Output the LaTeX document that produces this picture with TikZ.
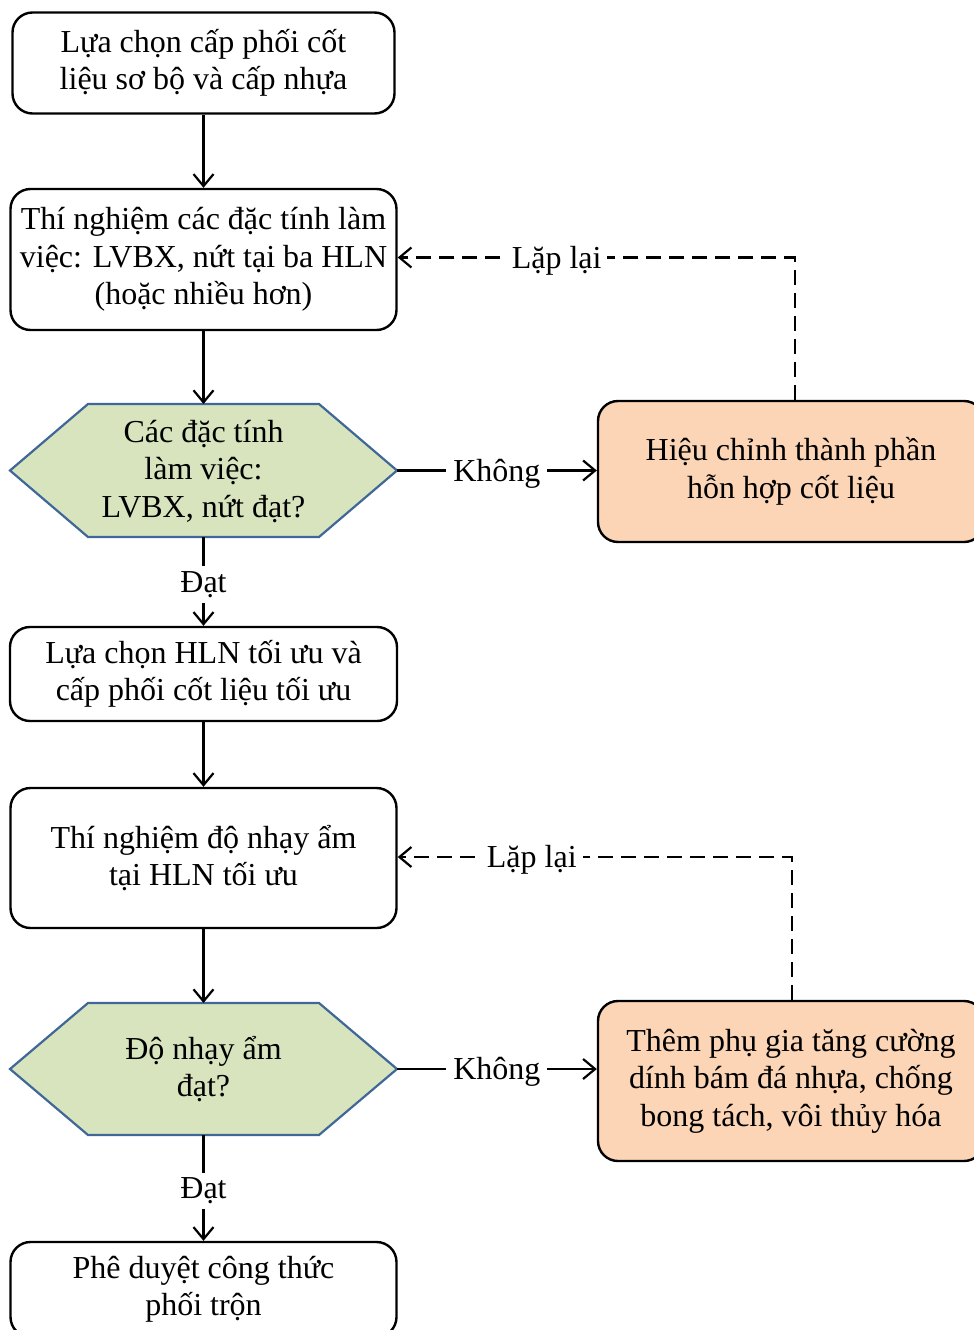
\documentclass[tikz,border=0pt]{standalone}
\usepackage{fontspec}
\setmainfont{Liberation Serif}
\usetikzlibrary{arrows.meta,calc}
\definecolor{hexfill}{HTML}{D7E4BD}
\definecolor{hexline}{HTML}{3F6797}
\definecolor{orfill}{HTML}{FBD5B5}
\begin{document}
\begin{tikzpicture}[x=1pt,y=-1pt,
  every node/.style={font=\fontsize{32}{37.5}\selectfont, align=center, inner sep=0pt},
  procbox/.style={draw=black, line width=2.4pt, rounded corners=20pt, fill=white},
  orbox/.style={draw=black, line width=2.4pt, rounded corners=20pt, fill=orfill},
  hexshape/.style={draw=hexline, line width=2.2pt, fill=hexfill, line join=miter},
  conn/.style={line width=2.4pt, -{Straight Barb[length=12pt,width=20pt,line width=2.2pt]}},
  dconn/.style={conn, dash pattern=on 15pt off 8pt},
  lbl/.style={fill=white, inner xsep=7pt, inner ysep=5pt, yshift=-3pt}]
\useasboundingbox (0,0) rectangle (974,1330);

% boxes
\node[procbox, minimum width=382pt, minimum height=101pt] (b1) at (203.5,63)
  {Lựa chọn cấp phối cốt\\liệu sơ bộ và cấp nhựa};
\node[procbox, minimum width=386pt, minimum height=141pt] (b2) at (203.5,259.5)
  {Thí nghiệm các đặc tính làm\\việc: LVBX, nứt tại ba HLN\\(hoặc nhiều hơn)};

% hexagon 1
\coordinate (h1c) at (203.5,470.5);
\draw[hexshape] ($(h1c)+(-193.5,0)$) -- ($(h1c)+(-115.5,-66.5)$) -- ($(h1c)+(115.5,-66.5)$)
  -- ($(h1c)+(193.5,0)$) -- ($(h1c)+(115.5,66.5)$) -- ($(h1c)+(-115.5,66.5)$) -- cycle;
\node[minimum width=387pt, minimum height=133pt] (h1) at ($(h1c)+(0,1)$)
  {Các đặc tính\\làm việc:\\LVBX, nứt đạt?};

\node[orbox, minimum width=386pt, minimum height=141pt] (o1) at (791,471.5)
  {Hiệu chỉnh thành phần\\hỗn hợp cốt liệu};

\node[procbox, minimum width=387pt, minimum height=94pt] (b3) at (203.5,674)
  {Lựa chọn HLN tối ưu và\\cấp phối cốt liệu tối ưu};
\node[procbox, minimum width=386pt, minimum height=140pt] (b4) at (203.5,858)
  {Thí nghiệm độ nhạy ẩm\\tại HLN tối ưu};

% hexagon 2
\coordinate (h2c) at (203.5,1069);
\draw[hexshape] ($(h2c)+(-193.5,0)$) -- ($(h2c)+(-115.5,-66)$) -- ($(h2c)+(115.5,-66)$)
  -- ($(h2c)+(193.5,0)$) -- ($(h2c)+(115.5,66)$) -- ($(h2c)+(-115.5,66)$) -- cycle;
\node[minimum width=387pt, minimum height=132pt] (h2) at (h2c)
  {Độ nhạy ẩm\\đạt?};

\node[orbox, minimum width=386pt, minimum height=160pt] (o2) at (791,1081)
  {Thêm phụ gia tăng cường\\dính bám đá nhựa, chống\\bong tách, vôi thủy hóa};

\node[procbox, minimum width=386pt, minimum height=95pt] (b5) at (203.5,1289.5)
  {Phê duyệt công thức\\phối trộn};

% connectors
\draw[conn] (b1.south) -- (b2.north);
\draw[conn] (b2.south) -- (h1c |- 0,404);
\draw[conn] (h1c |- 0,537) -- node[lbl] (d1) {Đạt} (b3.north);
\draw[conn] (b3.south) -- (b4.north);
\draw[conn] (b4.south) -- (h2c |- 0,1003);
\draw[conn] (h2c |- 0,1135) -- node[lbl] (d2) {Đạt} (b5.north);
\draw[conn] (h1c -| 397,0) -- node[lbl] (k1) {Không} (h1c -| o1.west);
\draw[conn] (h2c -| 397,0) -- node[lbl] (k2) {Không} (h2c -| o2.west);
\coordinate (t1) at ($(o1.north)+(4,0)$);
\coordinate (t2) at ($(o2.north)+(1,0)$);
\draw[dconn] (t1) |- node[lbl, pos=0.80, inner xsep=6pt] (l1) {Lặp lại} ($(b2.east)+(0,-2)$);
\draw[dconn] (t2) |- node[lbl, pos=0.83, inner xsep=6pt] (l2) {Lặp lại} ($(b4.east)+(0,-1)$);
\end{tikzpicture}
\end{document}
